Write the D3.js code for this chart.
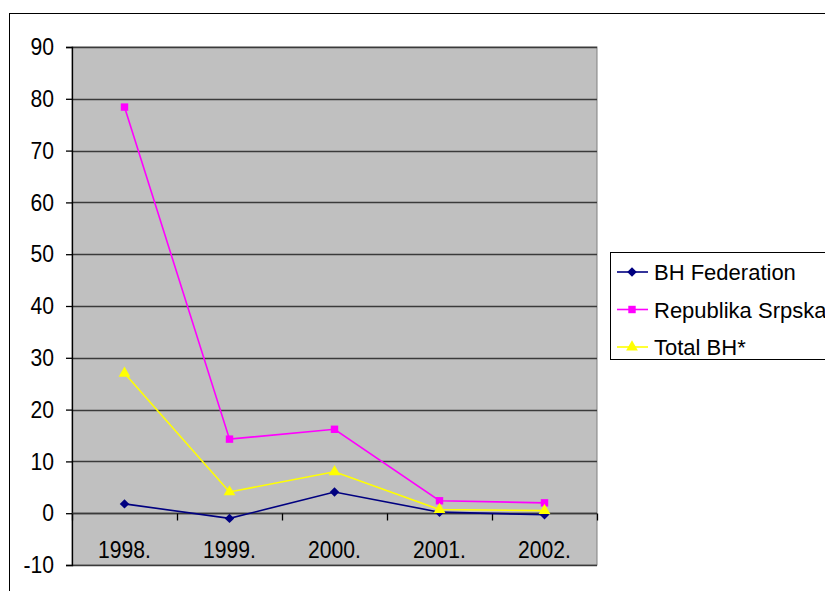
<!DOCTYPE html>
<html><head><meta charset="utf-8">
<script src="https://cdn.jsdelivr.net/npm/d3@7"></script>
<style>body{margin:0;background:#fff}svg{display:block}text{font-family:"Liberation Sans",Arial,sans-serif}</style>
</head><body>
<svg id="c" width="825" height="591"></svg>
<script>
const categories = ["1998.", "1999.", "2000.", "2001.", "2002."];
const bhFederation = [1.8, -1.0, 4.1, 0.2, -0.3];
const republikaSrpska = [78.4, 14.3, 16.2, 2.4, 2.0];
const totalBH = [27.0, 4.1, 8.0, 0.7, 0.5];
const yTicks = [-10, 0, 10, 20, 30, 40, 50, 60, 70, 80, 90];
const seriesNames = ["BH Federation", "Republika Srpska", "Total BH*"];

const series = [
  {name: seriesNames[0], values: bhFederation, color: "#000080", sym: d3.symbolSquare, size: 45, rot: 45},
  {name: seriesNames[1], values: republikaSrpska, color: "#FF00FF", sym: d3.symbolSquare, size: 55, rot: 0},
  {name: seriesNames[2], values: totalBH, color: "#FFFF00", sym: d3.symbolTriangle, size: 60, rot: 0}
];

const svg = d3.select("#c");
const L = 72, R = 597, T = 47, B = 565;

// outer chart border
svg.append("rect").attr("x", 9.5).attr("y", 13.5).attr("width", 830).attr("height", 600)
  .attr("fill", "#fff").attr("stroke", "#000").attr("stroke-width", 1);

const x = d3.scaleBand().domain(categories).range([L, R]).padding(0);
const y = d3.scaleLinear().domain([-10, 90]).range([B, T]);

// plot area
svg.append("rect").attr("x", L).attr("y", T).attr("width", R - L).attr("height", B - T)
  .attr("fill", "#C0C0C0").attr("stroke", "#808080").attr("stroke-width", 1);

// gridlines
svg.append("g").selectAll("line").data(yTicks).join("line")
  .attr("x1", L).attr("x2", R).attr("y1", d => Math.round(y(d)) + 0.5).attr("y2", d => Math.round(y(d)) + 0.5)
  .attr("stroke", "#3a3a3a").attr("stroke-width", 1.3);

// y axis
const yAxis = svg.append("g").attr("transform", `translate(${L},0)`)
  .call(d3.axisLeft(y).tickValues(yTicks).tickSize(6).tickPadding(12).tickFormat(d => String(d)));
yAxis.select(".domain").attr("stroke", "#000").attr("stroke-width", 1.3);
yAxis.selectAll(".tick line").attr("stroke", "#000").attr("stroke-width", 1.3);
yAxis.selectAll(".tick text").attr("font-size", 24).attr("fill", "#000")
  .attr("font-family", "Liberation Sans, Arial, sans-serif")
  .attr("transform", "scale(0.88,1)")
  .attr("x", -18/0.88);

// x axis at zero
const y0 = Math.round(y(0)) + 0.5;
const xg = svg.append("g");
xg.append("line").attr("x1", L).attr("x2", R).attr("y1", y0).attr("y2", y0).attr("stroke", "#3a3a3a").attr("stroke-width", 1.5);
const bounds = categories.map(c => x(c)).concat([R]);
xg.selectAll("line.t").data(bounds).join("line").attr("class", "t")
  .attr("x1", d => Math.round(d) + 0.5).attr("x2", d => Math.round(d) + 0.5)
  .attr("y1", y0).attr("y2", y0 + 7).attr("stroke", "#000").attr("stroke-width", 1.3);
xg.selectAll("text").data(categories).join("text")
  .attr("transform", d => `translate(${x(d) + x.bandwidth() / 2},558) scale(0.88,1)`)
  .attr("text-anchor", "middle").attr("font-size", 24).attr("fill", "#000").text(d => d);

// lines and markers
const line = d3.line().x((d, i) => x(categories[i]) + x.bandwidth() / 2).y(d => y(d));
series.forEach(s => {
  svg.append("path").datum(s.values).attr("d", line).attr("fill", "none")
    .attr("stroke", s.color).attr("stroke-width", 1.6);
  svg.append("g").selectAll("path").data(s.values).join("path")
    .attr("transform", (d, i) => `translate(${x(categories[i]) + x.bandwidth() / 2},${y(d)}) rotate(${s.rot})`)
    .attr("d", d3.symbol().type(s.sym).size(s.size)).attr("fill", s.color);
});

// legend
const lg = svg.append("g");
lg.append("rect").attr("x", 610.5).attr("y", 252.5).attr("width", 240).attr("height", 107)
  .attr("fill", "#fff").attr("stroke", "#000").attr("stroke-width", 1);
const rowY = [272, 309.5, 347];
series.forEach((s, i) => {
  lg.append("line").attr("x1", 617).attr("x2", 648).attr("y1", rowY[i]).attr("y2", rowY[i])
    .attr("stroke", s.color).attr("stroke-width", 1.6);
  lg.append("path").attr("transform", `translate(632,${rowY[i]}) rotate(${s.rot})`)
    .attr("d", d3.symbol().type(s.sym).size(s.size)).attr("fill", s.color);
  lg.append("text").attr("x", 654).attr("y", rowY[i] + 8).attr("font-size", 22).attr("fill", "#000").text(s.name);
});
</script>
</body></html>
